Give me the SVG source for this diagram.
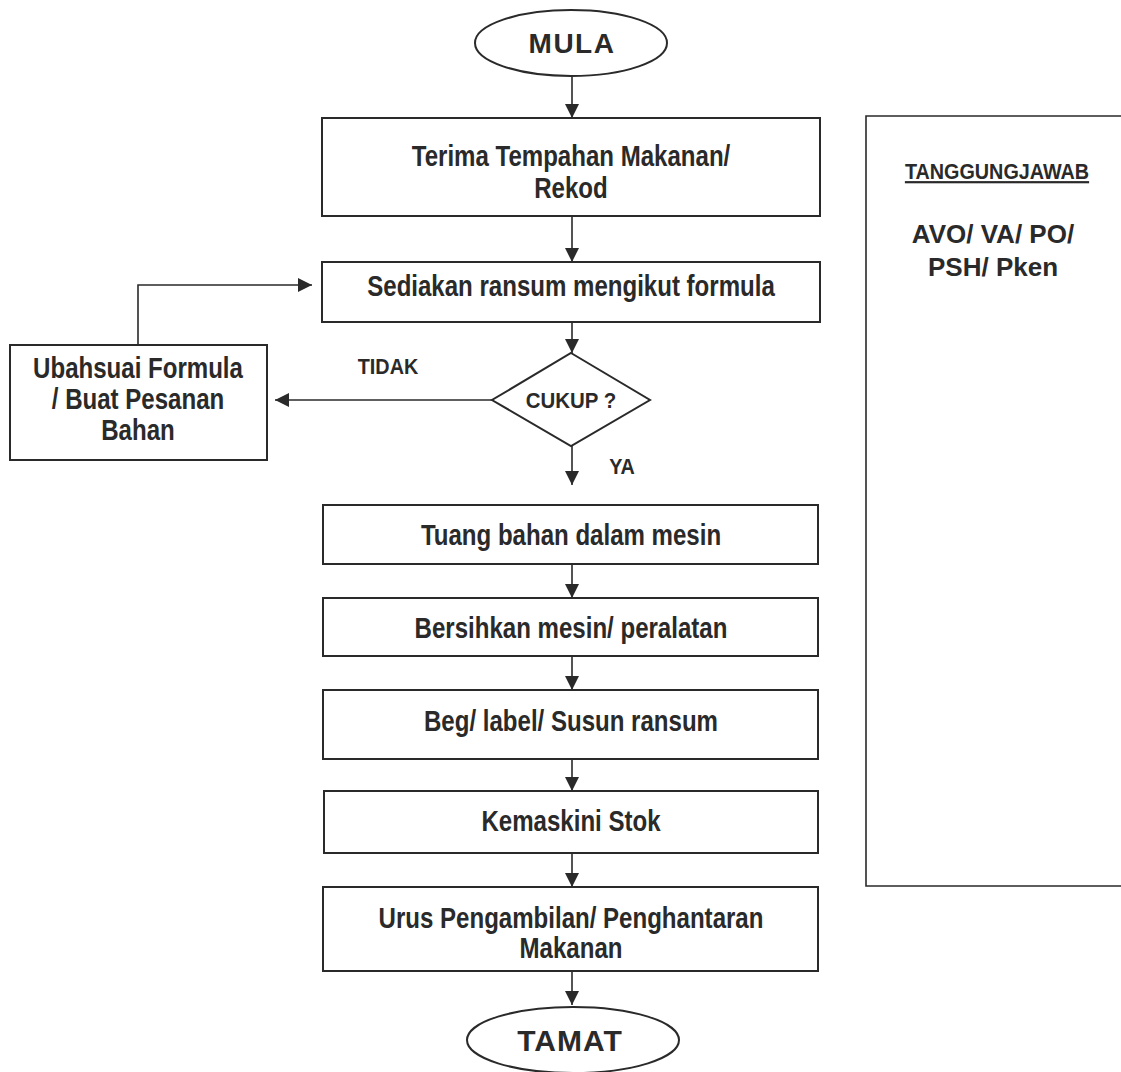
<svg xmlns="http://www.w3.org/2000/svg" width="1121" height="1072" viewBox="0 0 1121 1072">
<defs>
<marker id="ah" viewBox="0 0 10 10" refX="10" refY="5" markerWidth="14" markerHeight="14" markerUnits="userSpaceOnUse" orient="auto">
<path d="M0,0 L10,5 L0,10 Z" fill="#2a2a2a"/>
</marker>
<style>
.box{fill:#fff;stroke:#2a2a2a;stroke-width:2}
.ln{fill:none;stroke:#2a2a2a;stroke-width:1.6}
.t{font-family:"Liberation Sans",Arial,sans-serif;font-weight:bold;font-size:29px;fill:#2a2a2a;text-anchor:middle}
.tb{font-family:"Liberation Sans",Arial,sans-serif;font-weight:bold;font-size:26px;fill:#2a2a2a;text-anchor:middle}
.s{font-size:22px}
</style>
</defs>
<rect width="1121" height="1072" fill="#fff"/>
<g id="connectors">
<line class="ln" x1="572" y1="77" x2="572" y2="118" marker-end="url(#ah)"/>
<line class="ln" x1="572" y1="216" x2="572" y2="262" marker-end="url(#ah)"/>
<line class="ln" x1="572" y1="322" x2="572" y2="353" marker-end="url(#ah)"/>
<line class="ln" x1="492" y1="400" x2="275" y2="400" marker-end="url(#ah)"/>
<polyline class="ln" points="138,345 138,285 312,285" marker-end="url(#ah)"/>
<line class="ln" x1="572" y1="446" x2="572" y2="485" marker-end="url(#ah)"/>
<line class="ln" x1="572" y1="564" x2="572" y2="598" marker-end="url(#ah)"/>
<line class="ln" x1="572" y1="656" x2="572" y2="690" marker-end="url(#ah)"/>
<line class="ln" x1="572" y1="759" x2="572" y2="791" marker-end="url(#ah)"/>
<line class="ln" x1="572" y1="853" x2="572" y2="887" marker-end="url(#ah)"/>
<line class="ln" x1="572" y1="971" x2="572" y2="1005" marker-end="url(#ah)"/>
<text class="t s" transform="translate(388 374) scale(0.9 1)">TIDAK</text>
<text class="t s" transform="translate(622 474) scale(0.9 1)">YA</text>
</g>
<g id="mula">
<ellipse class="box" cx="571" cy="43" rx="96" ry="33"/>
<text class="tb" x="572" y="53" style="font-size:28px;letter-spacing:1.5px">MULA</text>
</g>
<g id="terima">
<rect class="box" x="322" y="118" width="498" height="98"/>
<text class="t" transform="translate(571 165.5) scale(0.83 1)">Terima Tempahan Makanan/</text>
<text class="t" transform="translate(571 197.5) scale(0.83 1)">Rekod</text>
</g>
<g id="sediakan">
<rect class="box" x="322" y="262" width="498" height="60"/>
<text class="t" transform="translate(571 295.5) scale(0.83 1)">Sediakan ransum mengikut formula</text>
</g>
<g id="cukup">
<polygon class="box" points="571,353 650,400 571,446 492,400"/>
<text class="t s" transform="translate(571 408) scale(0.93 1)">CUKUP ?</text>
</g>
<g id="ubahsuai">
<rect class="box" x="10" y="345" width="257" height="115"/>
<text class="t" transform="translate(138 378) scale(0.83 1)">Ubahsuai Formula</text>
<text class="t" transform="translate(138 409) scale(0.83 1)">/ Buat Pesanan</text>
<text class="t" transform="translate(138 440) scale(0.83 1)">Bahan</text>
</g>
<g id="tuang">
<rect class="box" x="323" y="505" width="495" height="59"/>
<text class="t" transform="translate(571 544.5) scale(0.83 1)">Tuang bahan dalam mesin</text>
</g>
<g id="bersihkan">
<rect class="box" x="323" y="598" width="495" height="58"/>
<text class="t" transform="translate(571 637.5) scale(0.83 1)">Bersihkan mesin/ peralatan</text>
</g>
<g id="beg">
<rect class="box" x="323" y="690" width="495" height="69"/>
<text class="t" transform="translate(571 730.5) scale(0.83 1)">Beg/ label/ Susun ransum</text>
</g>
<g id="kemaskini">
<rect class="box" x="324" y="791" width="494" height="62"/>
<text class="t" transform="translate(571 830.5) scale(0.83 1)">Kemaskini Stok</text>
</g>
<g id="urus">
<rect class="box" x="323" y="887" width="495" height="84"/>
<text class="t" transform="translate(571 927.5) scale(0.83 1)">Urus Pengambilan/ Penghantaran</text>
<text class="t" transform="translate(571 957.5) scale(0.83 1)">Makanan</text>
</g>
<g id="tamat">
<ellipse class="box" cx="573" cy="1040" rx="106" ry="33"/>
<text class="tb" x="570" y="1051" style="font-size:30px;letter-spacing:1px">TAMAT</text>
</g>
<g id="tanggungjawab">
<polyline class="ln" points="1121,116 866,116 866,886 1121,886"/>
<text class="t" transform="translate(997 179) scale(0.9 1)" style="font-size:22px" text-decoration="underline">TANGGUNGJAWAB</text>
<text class="tb" x="993" y="243">AVO/ VA/ PO/</text>
<text class="tb" x="993" y="276">PSH/ Pken</text>
</g>
</svg>
